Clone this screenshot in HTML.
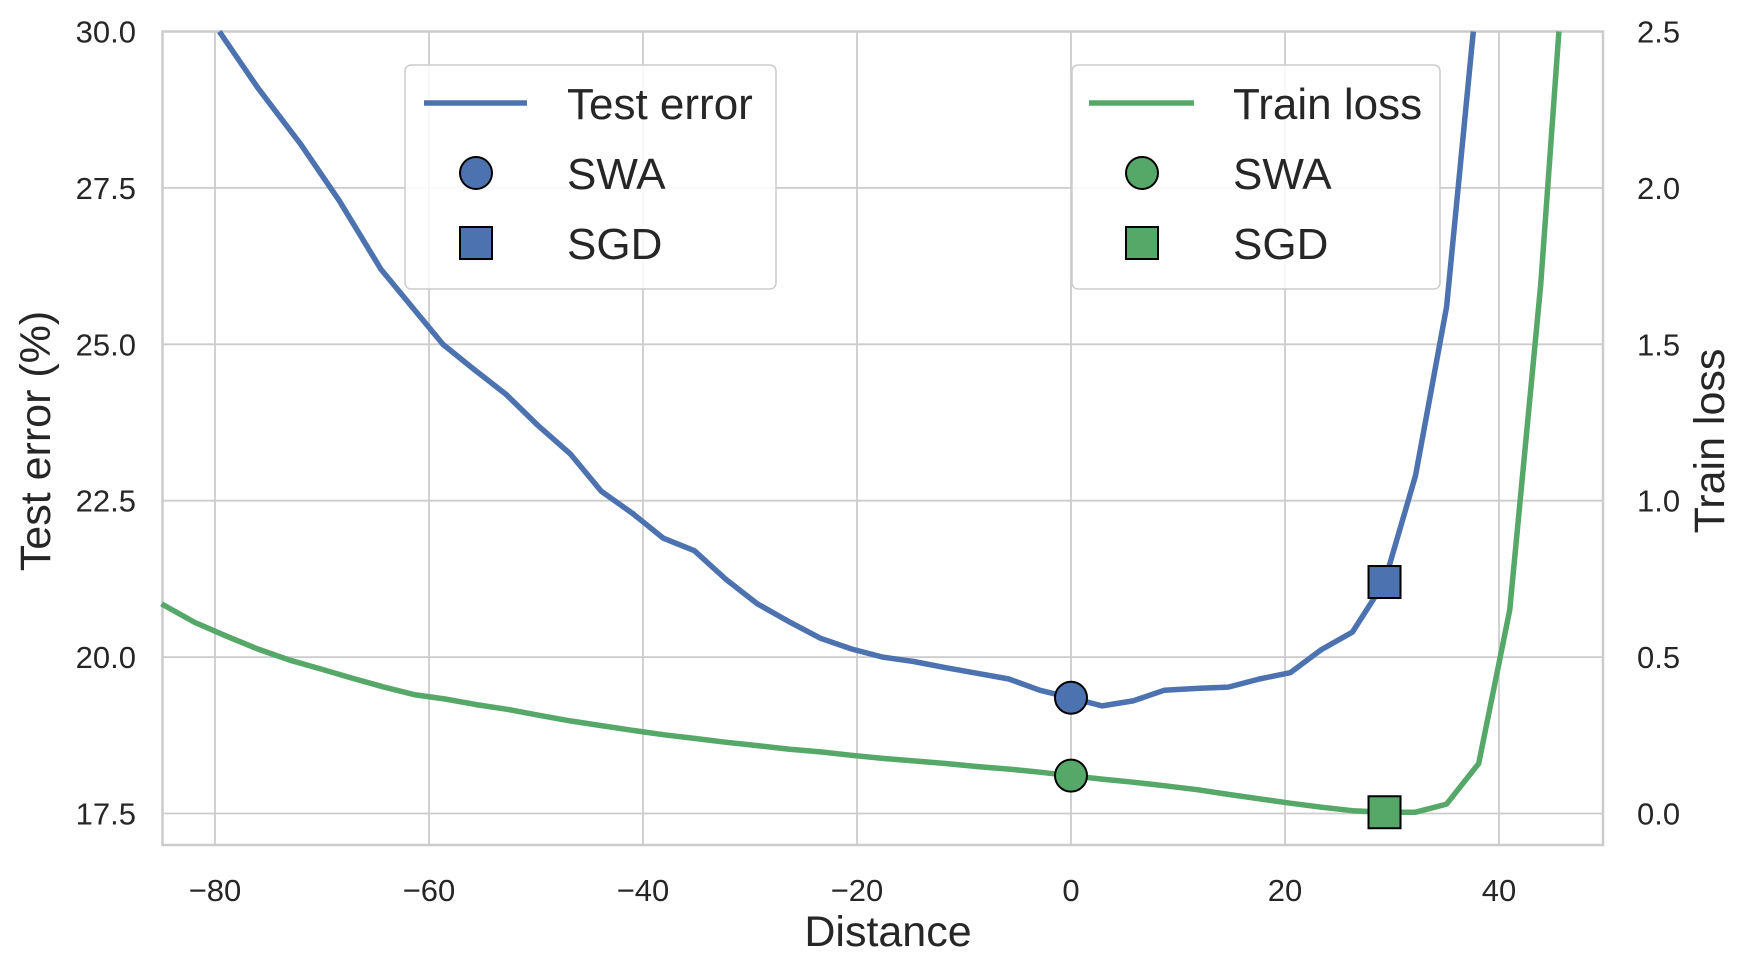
<!DOCTYPE html>
<html><head><meta charset="utf-8"><style>
html,body{margin:0;padding:0;background:#fff;}
svg{display:block;font-family:"Liberation Sans",sans-serif;}
</style></head><body>
<svg id="s" width="1742" height="973" xmlns="http://www.w3.org/2000/svg">
<rect width="1742" height="973" fill="#fff"/>
<g id="grid" stroke="#cccccc" stroke-width="1.8"></g>
<rect x="162.5" y="31.5" width="1440.5" height="813.5" fill="none" stroke="#cccccc" stroke-width="2.5"/>
<g id="lines"></g>
<g id="labels" fill="#262626" font-size="31"></g>
<text x="888" y="946" font-size="43" text-anchor="middle" fill="#262626">Distance</text>
<text transform="translate(50,441) rotate(-90)" font-size="43" text-anchor="middle" fill="#262626">Test error (%)</text>
<text transform="translate(1724,441) rotate(-90)" font-size="43" text-anchor="middle" fill="#262626">Train loss</text>
<g font-size="44" fill="#262626">
<rect x="405" y="65" width="371" height="224" rx="6" fill="#fff" fill-opacity="0.85" stroke="#cccccc" stroke-width="1.5"/>
<line x1="424" y1="103" x2="527" y2="103" stroke="#4c72b0" stroke-width="5.5"/>
<circle cx="476" cy="173" r="16" fill="#4c72b0" stroke="#000" stroke-width="2"/>
<rect x="460" y="227" width="32" height="32" fill="#4c72b0" stroke="#000" stroke-width="2"/>
<text x="567" y="119">Test error</text><text x="567" y="189">SWA</text><text x="567" y="259">SGD</text>
<rect x="1072" y="65" width="368" height="224" rx="6" fill="#fff" fill-opacity="0.85" stroke="#cccccc" stroke-width="1.5"/>
<line x1="1089" y1="103" x2="1194" y2="103" stroke="#55a868" stroke-width="5.5"/>
<circle cx="1142" cy="173" r="16" fill="#55a868" stroke="#000" stroke-width="2"/>
<rect x="1126" y="227" width="32" height="32" fill="#55a868" stroke="#000" stroke-width="2"/>
<text x="1233" y="119">Train loss</text><text x="1233" y="189">SWA</text><text x="1233" y="259">SGD</text>
</g>
</svg>
<script>
var NS="http://www.w3.org/2000/svg";
function X(d){return 1071+d*10.7;}
function Yt(v){return 813.5-(v-17.5)*62.56;}
function Yr(v){return 813.5-v*312.8;}
function el(t,a,p,txt){var e=document.createElementNS(NS,t);for(var k in a)e.setAttribute(k,a[k]);if(txt!=null)e.textContent=txt;document.getElementById(p).appendChild(e);return e;}
[-80,-60,-40,-20,0,20,40].forEach(function(d){el('line',{x1:X(d),x2:X(d),y1:31.5,y2:845},'grid');el('text',{x:X(d),y:901,'text-anchor':'middle'},'labels',(d<0?'\u2212'+(-d):d));});
[17.5,20,22.5,25,27.5,30].forEach(function(v){el('line',{x1:162.5,x2:1603,y1:Yt(v),y2:Yt(v)},'grid');el('text',{x:136,y:Yt(v)+11,'text-anchor':'end'},'labels',v.toFixed(1));});
[0,0.5,1,1.5,2,2.5].forEach(function(v){el('text',{x:1637,y:Yr(v)+11},'labels',v.toFixed(1));});
var B=[[-79.6,30],[-76,29.1],[-72,28.2],[-68.4,27.3],[-64.5,26.2],[-61.6,25.6],[-58.7,25.0],[-55.8,24.6],[-52.8,24.2],[-49.8,23.7],[-46.8,23.25],[-43.9,22.65],[-41,22.3],[-38.1,21.9],[-35.2,21.7],[-32.3,21.25],[-29.3,20.85],[-26.4,20.57],[-23.4,20.3],[-20.5,20.13],[-17.6,20.0],[-14.7,19.93],[-11.7,19.83],[-8.7,19.74],[-5.8,19.65],[-2.9,19.47],[0,19.35],[2.9,19.22],[5.8,19.3],[8.7,19.47],[11.8,19.5],[14.7,19.52],[17.6,19.65],[20.5,19.75],[23.4,20.12],[26.3,20.4],[29.3,21.2],[32.2,22.9],[35.1,25.6],[37.6,30]];
var G=[[-85,0.67],[-81.9,0.611],[-79,0.568],[-76,0.526],[-73,0.49],[-70.1,0.462],[-67.2,0.433],[-64.3,0.405],[-61.4,0.38],[-58.5,0.366],[-55.6,0.348],[-52.7,0.333],[-49.7,0.314],[-46.8,0.296],[-43.9,0.281],[-41,0.266],[-38.1,0.252],[-35.2,0.24],[-32.3,0.228],[-29.3,0.217],[-26.4,0.206],[-23.4,0.197],[-20.5,0.186],[-17.6,0.176],[-14.7,0.168],[-11.7,0.16],[-8.7,0.15],[-5.8,0.142],[-2.9,0.132],[0,0.121],[2.9,0.11],[5.8,0.1],[8.7,0.089],[11.8,0.076],[14.7,0.061],[17.6,0.047],[20.5,0.033],[23.4,0.02],[26.3,0.009],[29.3,0.004],[32.2,0.004],[35.1,0.03],[38.1,0.16],[41,0.65],[43.9,1.69],[45.6,2.5]];
el('path',{d:'M'+B.map(function(p){return X(p[0]).toFixed(1)+','+Yt(p[1]).toFixed(1)}).join('L'),fill:'none',stroke:'#4c72b0','stroke-width':5.5,'stroke-linejoin':'round'},'lines');
el('path',{d:'M'+G.map(function(p){return X(p[0]).toFixed(1)+','+Yr(p[1]).toFixed(1)}).join('L'),fill:'none',stroke:'#55a868','stroke-width':5.5,'stroke-linejoin':'round'},'lines');
el('circle',{cx:X(0),cy:Yt(19.35),r:16,fill:'#4c72b0',stroke:'#000','stroke-width':2},'lines');
el('circle',{cx:X(0),cy:Yr(0.121),r:16,fill:'#55a868',stroke:'#000','stroke-width':2},'lines');
el('rect',{x:X(29.3)-16,y:Yt(21.2)-16,width:32,height:32,fill:'#4c72b0',stroke:'#000','stroke-width':2},'lines');
el('rect',{x:X(29.3)-16,y:Yr(0.004)-16,width:32,height:32,fill:'#55a868',stroke:'#000','stroke-width':2},'lines');
</script>
</body></html>
